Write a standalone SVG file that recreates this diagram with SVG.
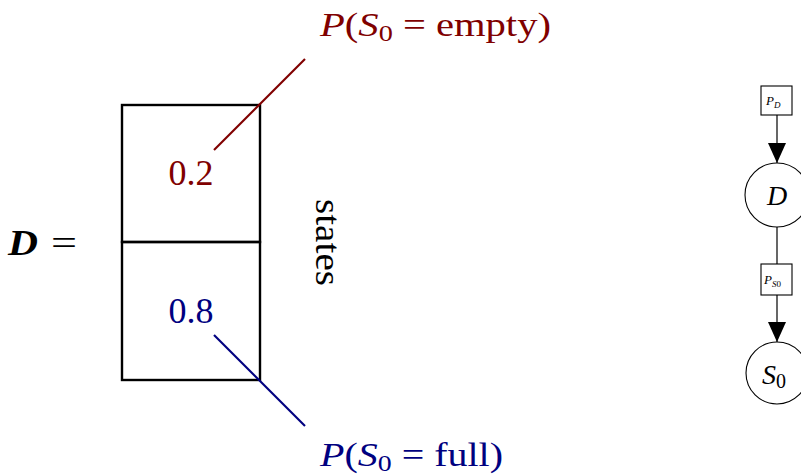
<svg xmlns="http://www.w3.org/2000/svg" width="801" height="475" viewBox="0 0 801 475">
  <style>
    text { font-family: "Liberation Serif", "DejaVu Serif", serif; }
    .it { font-style: italic; }
    .red { fill: #800000; }
    .blue { fill: #000080; }
    .cell { fill: none; stroke: #000; stroke-width: 2.4; }
    .lead-red { stroke: #800000; stroke-width: 2.2; fill: none; }
    .lead-blue { stroke: #000080; stroke-width: 2.2; fill: none; }
    .gnode { fill: #fff; stroke: #000; stroke-width: 1.1; }
    .gedge { stroke: #000; stroke-width: 1.2; fill: none; }
  </style>
  <defs>
    <marker id="arr" markerUnits="userSpaceOnUse" markerWidth="20" markerHeight="20" viewBox="0 0 20 18" refX="20" refY="9" orient="auto">
      <path d="M0,0 L20,9 L0,18 Z" fill="#000"/>
    </marker>
  </defs>

  <g id="label-D">
    <text x="8" y="255" font-size="35" font-weight="bold" font-style="italic" textLength="30" lengthAdjust="spacingAndGlyphs">D</text>
    <text x="51" y="255" font-size="35" textLength="26" lengthAdjust="spacingAndGlyphs">=</text>
  </g>

  <g id="cell-empty">
    <rect class="cell" x="122" y="105" width="138" height="137"/>
    <text class="red" x="191" y="185" font-size="35" text-anchor="middle" textLength="45" lengthAdjust="spacingAndGlyphs">0.2</text>
  </g>
  <g id="cell-full">
    <rect class="cell" x="122" y="242" width="138" height="138"/>
    <text class="blue" x="191" y="323" font-size="35" text-anchor="middle" textLength="45" lengthAdjust="spacingAndGlyphs">0.8</text>
  </g>

  <g id="label-states">
    <text x="0" y="0" font-size="36" transform="translate(316,199) rotate(90)" textLength="87" lengthAdjust="spacingAndGlyphs">states</text>
  </g>

  <g id="label-empty">
    <text class="red" x="320" y="36" font-size="33" textLength="231" lengthAdjust="spacingAndGlyphs"><tspan class="it">P</tspan>(<tspan class="it">S</tspan><tspan font-size="23" dy="5">0</tspan><tspan dy="-5"> = empty)</tspan></text>
  </g>
  <g id="label-full">
    <text class="blue" x="320" y="466" font-size="33" textLength="183" lengthAdjust="spacingAndGlyphs"><tspan class="it">P</tspan>(<tspan class="it">S</tspan><tspan font-size="23" dy="5">0</tspan><tspan dy="-5"> = full)</tspan></text>
  </g>

  <g id="factor-PD">
    <rect class="gnode" x="761" y="86" width="31" height="29"/>
    <text x="766" y="105" font-size="13" class="it">P<tspan font-size="9" dy="3">D</tspan></text>
  </g>
  <g id="node-D">
    <circle class="gnode" cx="777" cy="195" r="32"/>
    <text x="777" y="205" font-size="28" class="it" text-anchor="middle">D</text>
  </g>
  <g id="factor-PS0">
    <rect class="gnode" x="761" y="264" width="31" height="31"/>
    <text x="764" y="284" font-size="13" class="it">P<tspan font-size="9" dy="3">S</tspan><tspan font-size="9" font-style="normal">0</tspan></text>
  </g>
  <g id="node-S0">
    <circle class="gnode" cx="777" cy="373" r="31"/>
    <text x="762" y="384" font-size="28" class="it">S<tspan font-size="20" font-style="normal" dy="4">0</tspan></text>
  </g>

  <g id="connectors">
    <line class="lead-red" x1="214" y1="150" x2="305" y2="59"/>
    <line class="lead-blue" x1="214" y1="335" x2="305" y2="426"/>
    <line class="gedge" x1="777" y1="115" x2="777" y2="163" marker-end="url(#arr)"/>
    <line class="gedge" x1="777" y1="227" x2="777" y2="264"/>
    <line class="gedge" x1="777" y1="295" x2="777" y2="342" marker-end="url(#arr)"/>
  </g>
</svg>
